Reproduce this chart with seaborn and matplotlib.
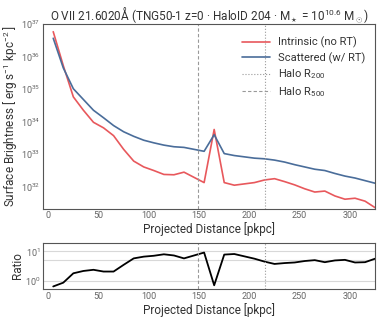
import numpy as np
import pandas as pd
import seaborn as sns
from matplotlib import pyplot as plt

# radial bins [pkpc]
dist = [5, 15, 25, 35, 45, 55, 65, 75, 85, 95, 105, 115, 125, 135, 145, 155, 165,
        175, 185, 195, 205, 215, 225, 235, 245, 255, 265, 275, 285, 295, 305, 315, 325]

# log10 surface brightness [erg/s/kpc^2]
log_sb_intrinsic = [36.76, 35.72, 34.76, 34.35, 33.98, 33.81, 33.57, 33.15, 32.79, 32.61, 32.50,
                    32.38, 32.37, 32.45, 32.29, 32.13, 33.76, 32.13, 32.05, 32.09, 32.13, 32.21,
                    32.25, 32.16, 32.06, 31.94, 31.84, 31.87, 31.72, 31.62, 31.65, 31.56, 31.36]
log_sb_scattered = [36.56, 35.65, 35.01, 34.68, 34.35, 34.12, 33.88, 33.69, 33.55, 33.43, 33.35,
                    33.28, 33.23, 33.21, 33.15, 33.09, 33.60, 33.02, 32.96, 32.92, 32.88, 32.86,
                    32.82, 32.76, 32.68, 32.61, 32.54, 32.50, 32.41, 32.33, 32.27, 32.19, 32.11]

r200 = 215.5
r500 = 148.5

df = pd.DataFrame({'dist': dist,
                   'intrinsic': 10**np.array(log_sb_intrinsic),
                   'scattered': 10**np.array(log_sb_scattered)})
df['ratio'] = df['scattered'] / df['intrinsic']

sns.set_style('white')
plt.rcParams['font.family'] = ['Roboto', 'DejaVu Sans']
plt.rcParams['mathtext.fontset'] = 'custom'
plt.rcParams['mathtext.rm'] = 'Roboto'
plt.rcParams['mathtext.it'] = 'Roboto'
plt.rcParams['xtick.direction'] = 'in'
plt.rcParams['ytick.direction'] = 'in'
plt.rcParams['text.color'] = '#333333'
plt.rcParams['axes.labelcolor'] = '#333333'

c_red = '#e8585c'
c_blue = '#4a6d9a'
c_grey = '#999999'

fig = plt.figure(figsize=(3.82, 3.23), dpi=100)
ax = fig.add_axes([0.113, 0.354, 0.869, 0.572])
ax2 = fig.add_axes([0.113, 0.104, 0.869, 0.145])

sns.lineplot(data=df, x='dist', y='intrinsic', ax=ax, color=c_red, lw=1.2, label='Intrinsic (no RT)')
sns.lineplot(data=df, x='dist', y='scattered', ax=ax, color=c_blue, lw=1.2, label='Scattered (w/ RT)')
ax.axvline(r200, color=c_grey, ls=':', lw=0.8, label='Halo R$_{200}$')
ax.axvline(r500, color=c_grey, ls='--', lw=0.8, dashes=(3, 2), label='Halo R$_{500}$')

ax.set_yscale('log')
ax.set_xlim(-5, 325)
ax.set_ylim(10**31.33, 1e37)
ax.set_xlabel('Projected Distance [pkpc]', fontsize=8.5, labelpad=1)
ax.set_ylabel('Surface Brightness [ erg s$^{-1}$ kpc$^{-2}$ ]', fontsize=8.5, labelpad=1)
ax.set_title('O VII 21.6020Å (TNG50-1 z=0 · HaloID 204 · M$_\\star$ = 10$^{10.6}$ M$_\\odot$)',
             fontsize=8.5, pad=3)
leg = ax.legend(loc='upper right', bbox_to_anchor=(0.985, 0.955), frameon=False, fontsize=8,
                handlelength=2.5, handletextpad=0.8, labelspacing=0.35, borderaxespad=0.0)

sns.lineplot(data=df, x='dist', y='ratio', ax=ax2, color='black', lw=1.3)
ax2.axvline(r200, color=c_grey, ls=':', lw=0.8)
ax2.axvline(r500, color=c_grey, ls='--', lw=0.8, dashes=(3, 2))
for yv in [1, 5, 10]:
    ax2.axhline(yv, color='#d8d8d8', lw=0.8, zorder=0)
ax2.set_yscale('log')
ax2.set_xlim(-5, 325)
ax2.set_ylim(0.5, 20)
ax2.set_xlabel('Projected Distance [pkpc]', fontsize=8.5, labelpad=1)
ax2.set_ylabel('Ratio', fontsize=8.5, labelpad=1)

for a in (ax, ax2):
    a.tick_params(labelsize=6.5, labelcolor='#666666', length=3, width=0.6, pad=2)
    a.tick_params(which='minor', length=1.5, width=0.5)
    for s in a.spines.values():
        s.set_color('#555555')
        s.set_linewidth(0.8)
    a.set_xticks([0, 50, 100, 150, 200, 250, 300])

plt.savefig('out.png', dpi=100)
